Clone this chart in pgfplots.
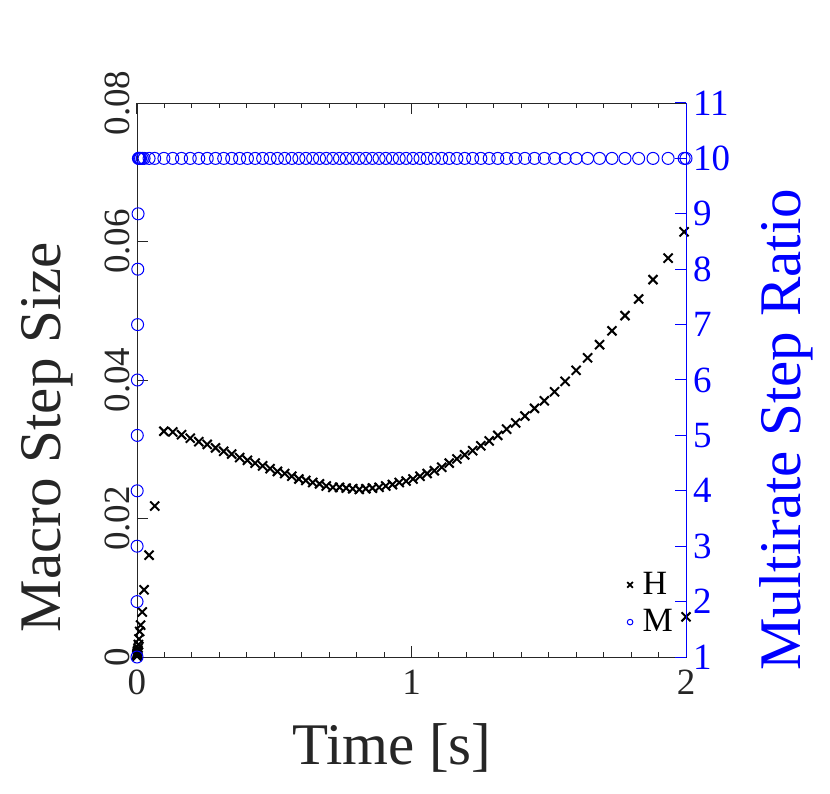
\documentclass[border=0pt]{standalone}
\usepackage{pgfplots}
\usepackage{pgfplotstable}
\pgfplotsset{compat=1.18}
\usepackage{fontspec}
\setmainfont{Liberation Serif}
\definecolor{mgray}{RGB}{38,38,38}
\pgfplotsset{/pgf/number format/assume math mode=true}
\pgfplotstableread{
t H M
0 0.0001 1
0.0001 0.0002 2
0.0003 0.0003 3
0.0006 0.0004 4
0.0010 0.0005 5
0.0015 0.0006 6
0.0021 0.0008 7
0.0029 0.0010 8
0.0039 0.0013 9
0.0052 0.0018 10
0.0070 0.0026 10
0.0098 0.0037 10
0.0130 0.0046 10
0.0190 0.0065 10
0.0258 0.0097 10
0.0440 0.0147 10
0.0645 0.0218 10
0.0980 0.0326 10
0.1303 0.0325 10
0.1623 0.0321 10
0.1940 0.0316 10
0.2251 0.0311 10
0.2558 0.0307 10
0.2860 0.0302 10
0.3158 0.0297 10
0.3451 0.0293 10
0.3739 0.0288 10
0.4023 0.0284 10
0.4302 0.0280 10
0.4577 0.0276 10
0.4848 0.0272 10
0.5116 0.0268 10
0.5380 0.0265 10
0.5640 0.0261 10
0.5897 0.0257 10
0.6150 0.0255 10
0.6401 0.0252 10
0.6648 0.0250 10
0.6894 0.0247 10
0.7136 0.0245 10
0.7378 0.0245 10
0.7619 0.0244 10
0.7858 0.0243 10
0.8097 0.0242 10
0.8337 0.0243 10
0.8577 0.0244 10
0.8819 0.0245 10
0.9062 0.0247 10
0.9306 0.0249 10
0.9553 0.0252 10
0.9802 0.0254 10
1.0054 0.0257 10
1.0309 0.0261 10
1.0569 0.0265 10
1.0832 0.0269 10
1.1100 0.0274 10
1.1374 0.0280 10
1.1653 0.0286 10
1.1938 0.0292 10
1.2229 0.0298 10
1.2527 0.0305 10
1.2831 0.0312 10
1.3143 0.0320 10
1.3464 0.0329 10
1.3793 0.0338 10
1.4131 0.0348 10
1.4481 0.0359 10
1.4840 0.0370 10
1.5211 0.0383 10
1.5597 0.0398 10
1.5997 0.0414 10
1.6415 0.0432 10
1.6850 0.0451 10
1.7303 0.0471 10
1.7778 0.0493 10
1.8275 0.0517 10
1.8798 0.0545 10
1.9348 0.0576 10
1.9931 0.0614 10
2.0000 0.0058 10
}\datatable
\begin{document}
\begin{tikzpicture}
\path (-68.5pt,-68pt) rectangle (346.5pt,328.5pt);
\begin{axis}[
  scale only axis, width=274.5pt, height=277pt,
  xmin=0, xmax=2, ymin=0, ymax=0.08,
  xtick={0,1,2},
  minor xtick={0.1,0.2,0.3,0.4,0.5,0.6,0.7,0.8,0.9,1.1,1.2,1.3,1.4,1.5,1.6,1.7,1.8,1.9},
  ytick={0,0.02,0.04,0.06,0.08},
  yticklabels={0,0.02,0.04,0.06,0.08},
  xticklabels={0,1,2},
  scaled y ticks=false, scaled x ticks=false,
  ytick pos=left,
  tick align=inside,
  major tick length=5.5pt, minor tick length=2.5pt,
  axis line style={mgray},
  every tick/.style={mgray, line width=0.5pt},
  ticklabel style={font=\fontsize{18.5}{22}\selectfont, text=mgray},
  yticklabel style={rotate=90, anchor=south},
  xticklabel style={yshift=-3pt},
  xlabel={Time [s]}, ylabel={Macro Step Size},
  label style={font=\fontsize{29.5}{34}\selectfont, text=mgray},
  xlabel style={at={(axis description cs:0.464,-0.165)}, anchor=center},
  ylabel style={at={(axis description cs:-0.164,0.397)}, anchor=center},
  clip=false,
  legend style={font=\fontsize{17}{20}\selectfont, at={(0.995,0.025)}, anchor=south east,
    draw=none, fill=none, row sep=2pt},
  legend cell align=left,
  legend image code/.code={\path[draw=none,fill=none] (0,0) rectangle (0.6cm,0.01cm); \draw[#1] plot coordinates {(0.45cm,0cm)};},
]
\addplot[only marks, mark=x, black, mark size=3.2pt, line width=1pt, forget plot] table[x=t, y=H] {\datatable};
\addlegendimage{only marks, mark=x, black, mark size=2pt, line width=0.9pt}
\addlegendentry{H}
\addlegendimage{only marks, mark=o, blue, mark size=1.4pt, line width=0.5pt}
\addlegendentry{M}
\end{axis}
\begin{axis}[
  scale only axis, width=274.5pt, height=277pt,
  xmin=0, xmax=2, ymin=1, ymax=11,
  axis y line*=right, axis x line=none,
  ytick={1,2,3,4,5,6,7,8,9,10,11},
  tick align=inside,
  major tick length=5.5pt,
  y axis line style={blue},
  every tick/.style={blue, line width=0.5pt},
  yticklabel style={font=\fontsize{18.5}{22}\selectfont, text=blue},
  ylabel={Multirate Step Ratio},
  ylabel style={font=\fontsize{29.5}{34}\selectfont, text=blue, at={(axis description cs:1.182,0.41)}, anchor=center},
  clip=false,
]
\addplot[only marks, mark=o, blue, mark size=3pt, line width=0.5pt] table[x=t, y=M] {\datatable};
\end{axis}
\end{tikzpicture}
\end{document}
